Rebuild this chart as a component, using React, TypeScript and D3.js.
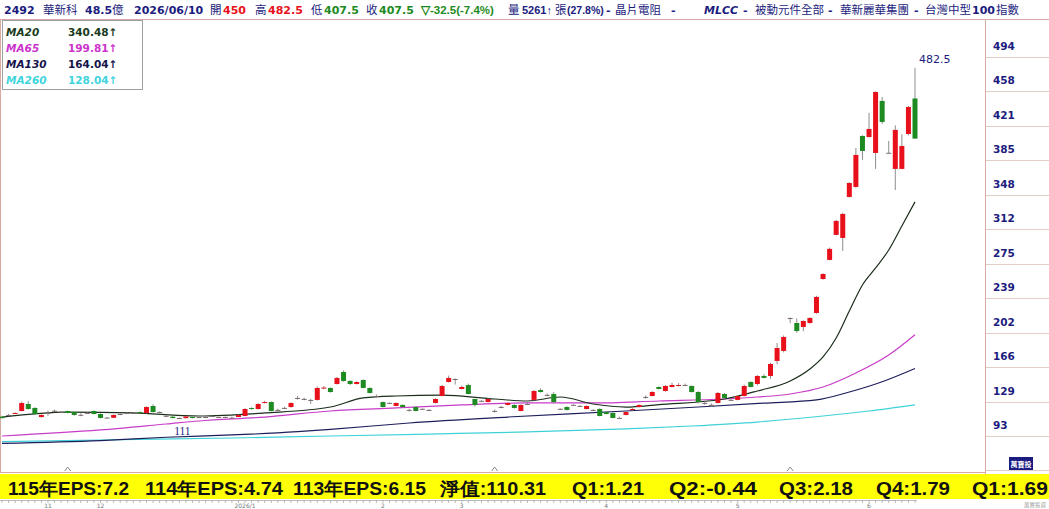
import React, { useEffect } from "react";
import * as d3 from "d3";

// daily candles: open, high, low, close
const candles: [number, number, number, number][] = [
  [113, 114, 111.2, 111.4], [114.5, 116, 113.5, 114.8], [116.5, 117.5, 116, 116.9], [119, 129, 118.5, 127.5],
  [126.4, 129.5, 120.5, 121.1], [122.2, 123, 115, 115.8], [112.6, 115.5, 112, 114.8], [116.9, 119.5, 114, 117.2],
  [119, 120.5, 118, 119.3], [118.2, 119, 117.5, 117.9], [119, 119.5, 116.5, 116.9], [117.9, 118.5, 114, 114.8],
  [114.8, 116.5, 113.5, 115], [116.9, 117.5, 116.5, 117], [119, 119.5, 115.5, 115.8], [115.8, 116.5, 111.2, 111.6],
  [112, 112.5, 111.3, 111.8], [111.8, 115.5, 111.4, 114.8], [115.6, 117, 114.5, 115.8], [116.9, 117.5, 116.5, 117],
  [116.9, 117.5, 116.3, 116.8], [117.9, 118.5, 116.5, 116.9], [116.9, 124, 116.5, 123.2], [124.3, 126, 117.5, 117.9],
  [118, 118.5, 117.5, 117.9], [113.7, 115, 112.5, 113.9], [113, 113.5, 111.2, 111.5], [111.6, 112, 111, 111.4],
  [111.4, 113.6, 111.1, 113.2], [112.6, 113, 111.2, 111.6], [112.4, 113, 112, 112.6], [112.5, 113.8, 111.5, 112.6],
  [113.5, 114, 113.2, 113.7], [112.6, 113, 112.1, 112.5], [112.5, 113, 112, 112.7], [111.8, 113, 111.5, 112],
  [112.6, 115.5, 112.3, 114.8], [113.7, 122, 113.5, 121.1], [122.2, 122.8, 120.5, 121.1], [121.1, 127.2, 120.5, 126.4],
  [127.5, 129.8, 127, 128.5], [128.5, 129, 118.5, 119], [120, 121.5, 118.8, 120.2], [122, 123.5, 121, 122.3],
  [123.2, 128, 122.5, 127.5], [132.6, 135, 131, 132.8], [131.7, 133, 130.5, 131.8], [130.6, 132, 126.5, 130.7],
  [130.7, 145, 130, 143.4], [143, 145.5, 142, 143.8], [143.4, 144, 138.5, 139.1], [147.6, 155, 147, 154],
  [160.3, 162, 150, 150.8], [150.8, 151.5, 146.5, 147.6], [147.6, 150.5, 147, 149.7], [151.8, 152.5, 143, 143.4],
  [143.4, 144, 137.5, 138.1], [134.7, 136.5, 133.5, 134.9], [128.5, 129, 122.8, 123.2], [127.6, 128, 126.8, 127.3],
  [124.3, 128, 124, 127.5], [125.4, 126, 122.8, 123.2], [120, 121.5, 118.5, 120.2], [123.2, 123.8, 118.7, 119],
  [121.3, 121.8, 120.8, 121.1], [120.1, 121, 119, 120], [127.5, 132.5, 127, 131.7], [134.9, 146.5, 134.5, 145.5],
  [149.7, 156.5, 149.2, 154], [152.9, 153.5, 147, 152.9], [142.3, 146, 142, 144.4], [146.5, 148, 136.5, 137],
  [131.7, 132, 123.5, 125.4], [129.8, 130.5, 129, 129.5], [128.5, 132.5, 128, 131.7], [119.1, 120.5, 117.5, 119],
  [123.2, 124.5, 122, 123.3], [125.4, 128, 125, 127.5], [125.4, 126, 121.5, 122.2], [119, 126, 118.5, 125.4],
  [126.4, 128, 125.5, 126.5], [130.7, 141, 130, 140.2], [141.2, 143, 138.5, 139.1], [136, 137.5, 134.5, 136.1],
  [137, 139, 127, 128.5], [121.3, 121.8, 120.5, 121], [123.2, 124, 119.5, 120.1], [125.4, 126, 125, 125.5],
  [124.4, 125, 123.8, 124.2], [121.1, 125, 120.8, 124.3], [120.1, 121, 119, 120], [121.1, 122, 113.3, 113.7],
  [117.9, 118.2, 115.5, 115.8], [116.9, 117.5, 111.2, 111.6], [111.6, 113, 111.3, 111.7], [114.8, 118.5, 114.3, 117.9],
  [120.1, 122, 119.5, 121.1], [123.2, 126, 122.8, 125.4], [133.8, 135.5, 132, 133.9], [134.9, 140, 134.5, 139.1],
  [144.4, 145, 141.8, 142.3], [140.2, 146.5, 139.5, 145.5], [144.4, 149, 144, 146.5], [145.5, 148.5, 145, 146.5],
  [146.5, 148, 145.5, 146.6], [145.5, 146, 138.5, 139.1], [139.1, 140, 127, 128.5], [127.5, 129, 125.5, 127.6],
  [125.4, 127, 123.5, 125.5], [127.5, 139, 127, 138.1], [137, 138, 132.5, 132.8], [130.8, 131.5, 130, 130.6],
  [130.7, 135.5, 130.2, 134.9], [134.9, 147, 134.5, 145.5], [149.7, 150.5, 144, 144.4], [147.6, 157, 146, 156.1],
  [156.1, 158, 153.5, 154], [156.1, 170, 153, 168.8], [172, 191, 168.5, 185.7], [182.6, 199, 181, 197.4],
  [217.5, 218, 212, 217.3], [212.2, 217, 202, 203.7], [208, 215, 203.5, 214.3], [212.2, 218.5, 211.5, 217.5],
  [222.8, 241, 222, 239.8], [258.8, 265, 258, 264.1], [279, 292, 278.5, 290.7], [305.5, 321.5, 305, 320.3],
  [302.3, 329, 288.5, 327.7], [345.7, 361.5, 345, 360.5], [356.3, 397.6, 355.5, 390.2], [410.3, 411, 385, 394.4],
  [409.2, 434.7, 408.5, 417.7], [392.3, 457.5, 375.4, 456.9], [447.4, 451.6, 423, 425.1], [392.3, 405, 392, 392.5],
  [375.4, 421.5, 353, 416.7], [375.4, 412, 375, 399.7], [412.4, 442, 411, 441], [450, 482.5, 407.5, 407.5],
];

// moving averages read at sample days: [day index, value]
const ma20: [number, number][] = [
  [0, 112.6], [10, 117.9], [20, 116.9], [30, 113.7], [40, 116.9], [50, 123.2], [55, 132.8], [60, 134.9],
  [67, 135.8], [75, 131.7], [80, 129.6], [85, 133.8], [90, 126.4], [95, 123.2], [100, 125.8], [110, 131.7],
  [115, 140.2], [120, 150.8], [123, 163.5], [125, 176.2], [127, 196.3], [129, 224.9], [131, 252.5],
  [133, 270.5], [135, 289.5], [137, 315], [139, 340.48],
];
const ma65: [number, number][] = [
  [0, 92.5], [15, 98.9], [25, 105.2], [30, 108.4], [40, 112.6], [50, 119], [60, 122.2], [70, 125.4],
  [80, 127.5], [90, 127.5], [100, 129.6], [110, 131.7], [115, 133.8], [120, 137], [125, 144.4],
  [130, 159.3], [135, 178.3], [139, 199.81],
];
const ma130: [number, number][] = [
  [0, 84.8], [15, 87.7], [25, 91.2], [35, 93.6], [45, 97.1], [50, 99.5], [62, 106.3], [77, 112.6],
  [95, 119], [106, 123.2], [116, 127.3], [124, 130.7], [129, 139.1], [134, 150], [139, 164.04],
];
const ma260: [number, number][] = [
  [0, 86.5], [15, 88.3], [35, 90.4], [50, 92.5], [65, 94.6], [80, 96.8], [95, 100], [105, 103.1],
  [115, 107.3], [125, 113.7], [132, 119], [139, 125.5],
];

const maNames = ["MA20", "MA65", "MA130", "MA260"];
const maValues = ["340.48↑", "199.81↑", "164.04↑", "128.04↑"];
const yTicks = [93, 129, 166, 202, 239, 275, 312, 348, 385, 421, 458, 494];
const monthTicks: [number, string][] = [
  [7, "11"], [15, "12"], [37, "2026/1"], [58, "2"], [70, "3"], [92, "4"], [112, "5"], [132, "6"],
];
const markerDays = [10, 75, 120];
const epsItems = [
  "115年EPS:7.2", "114年EPS:4.74", "113年EPS:6.15", "淨值:110.31",
  "Q1:1.21", "Q2:-0.44", "Q3:2.18", "Q4:1.79", "Q1:1.69",
];

// layout
const W = 1049;
const H = 509;
const PLOT_R = 985;
const PLOT_B = 472;
const epsX = [8, 145, 293, 440, 572, 669, 779, 876, 972];
const epsW = [121, 138, 133, 106, 72, 88, 74, 74, 76];

const UP = "#e8111b";
const DOWN = "#1e8a22";
const NAVY = "#1c1c7e";
const FRAME = "#d8aaa2";
const maColors = ["#1c2e1c", "#c83cc8", "#1e1e5c", "#3ed2d8"];
const legendColors = ["#1a3a1a", "#cc33cc", "#14144a", "#40d4dc"];

const HEAD = "'DejaVu Sans', Verdana, sans-serif";
const NARROW = "'Liberation Sans', Arial, sans-serif";
const CJK = "'Noto Sans CJK TC', sans-serif";

// header pieces; f picks a narrower face where the reference is tight
type Seg = { t: string; x: number; c: string; cjk?: boolean; it?: boolean; f?: string; s?: number };
const header: Seg[] = [
  { t: "2492", x: 4, c: NAVY },
  { t: "華新科", x: 43, c: NAVY, cjk: true },
  { t: "48.5", x: 85, c: NAVY },
  { t: "億", x: 112, c: NAVY, cjk: true },
  { t: "2026/06/10", x: 134, c: NAVY },
  { t: "開", x: 210, c: NAVY, cjk: true },
  { t: "450", x: 223, c: UP },
  { t: "高", x: 255, c: NAVY, cjk: true },
  { t: "482.5", x: 268, c: UP },
  { t: "低", x: 311, c: NAVY, cjk: true },
  { t: "407.5", x: 324, c: DOWN },
  { t: "收", x: 366, c: NAVY, cjk: true },
  { t: "407.5", x: 379, c: DOWN },
  { t: "▽-32.5(-7.4%)", x: 421, c: DOWN, f: NARROW, s: 11.5 },
  { t: "量", x: 508, c: NAVY, cjk: true },
  { t: "5261↑", x: 522, c: NAVY, f: NARROW, s: 11 },
  { t: "張", x: 555, c: NAVY, cjk: true },
  { t: "(27.8%)", x: 567, c: NAVY, f: NARROW, s: 10.5 },
  { t: "-", x: 606, c: NAVY },
  { t: "晶片電阻", x: 615, c: NAVY, cjk: true },
  { t: "-", x: 671, c: NAVY },
  { t: "MLCC", x: 704, c: NAVY, it: true },
  { t: "-", x: 743, c: NAVY },
  { t: "被動元件全部", x: 755, c: NAVY, cjk: true },
  { t: "-", x: 828, c: NAVY },
  { t: "華新麗華集團", x: 840, c: NAVY, cjk: true },
  { t: "-", x: 914, c: NAVY },
  { t: "台灣中型", x: 925, c: NAVY, cjk: true },
  { t: "100", x: 972, c: NAVY },
  { t: "指數", x: 996, c: NAVY, cjk: true },
];

export default function App() {
  useEffect(() => {
    document.body.style.margin = "0";
    document.body.style.overflow = "hidden";
  }, []);

  const x = d3.scaleLinear().domain([0, candles.length - 1]).range([2, 915]);
  const y = d3.scaleLinear().domain([56.5, 531]).range([470, 22]);
  const bodyW = 5;

  const line = d3
    .line<[number, number]>()
    .x((d) => x(d[0]))
    .y((d) => y(d[1]))
    .curve(d3.curveMonotoneX);

  const hiI = d3.maxIndex(candles, (d) => d[1]);
  const loI = d3.minIndex(candles, (d) => d[2]);

  return (
    <svg
      width={W}
      height={H}
      style={{ position: "absolute", left: 0, top: 0, display: "block", background: "#fff" }}
    >
      {/* header */}
      {header.map((s, i) => (
        <text
          key={i}
          x={s.x}
          y={14}
          fill={s.c}
          fontFamily={s.cjk ? CJK : s.f || HEAD}
          fontWeight={s.cjk ? 400 : "bold"}
          fontSize={s.cjk ? 11.5 : s.s || 11}
          fontStyle={s.it ? "italic" : "normal"}
        >
          {s.t}
        </text>
      ))}

      {/* frame */}
      <line x1={0} x2={W} y1={19.5} y2={19.5} stroke={FRAME} />
      <line x1={0.5} x2={0.5} y1={19.5} y2={PLOT_B} stroke={FRAME} />
      <line x1={0} x2={PLOT_R} y1={PLOT_B + 0.5} y2={PLOT_B + 0.5} stroke={FRAME} />
      <line x1={PLOT_R + 0.5} x2={PLOT_R + 0.5} y1={19.5} y2={474} stroke={FRAME} />

      {/* right axis */}
      {[56.5, ...yTicks].map((v) => (
        <line
          key={v}
          x1={PLOT_R + 1}
          x2={W}
          y1={Math.round(y(v)) + 0.5}
          y2={Math.round(y(v)) + 0.5}
          stroke="#e4cdc6"
        />
      ))}
      {yTicks.map((v) => (
        <text
          key={v}
          x={993}
          y={y(v) - 7}
          fill={NAVY}
          fontSize={10.5}
          fontWeight="bold"
          fontFamily={HEAD}
        >
          {v}
        </text>
      ))}
      <rect x={1009} y={457} width={24} height={13} fill="#1a1a80" />
      <text x={1021} y={466.5} fill="#fff" fontSize={7} textAnchor="middle" fontFamily={CJK} fontWeight="bold">
        萬寶投
      </text>

      {/* moving averages */}
      {[ma260, ma130, ma65, ma20].map((pts, i) => (
        <path
          key={i}
          d={line(pts) || ""}
          fill="none"
          stroke={maColors[3 - i]}
          strokeWidth={1.2}
        />
      ))}

      {/* candles */}
      {candles.map((d, i) => {
        const [o, h, l, c] = d;
        const cx = x(i);
        const up = c >= o;
        const top = y(Math.max(o, c));
        const bh = Math.max(1, y(Math.min(o, c)) - top);
        return (
          <g key={i}>
            <line x1={cx} x2={cx} y1={y(h)} y2={y(l)} stroke="#8e8e8e" strokeWidth={1} />
            <rect
              x={cx - bodyW / 2}
              y={top}
              width={bodyW}
              height={bh}
              fill={Math.abs(c - o) < 0.4 ? "#7a6a6a" : up ? UP : DOWN}
            />
          </g>
        );
      })}

      {/* high / low labels */}
      <text x={x(hiI) + 4} y={y(candles[hiI][1]) - 5} fill={NAVY} fontSize={11} fontFamily={HEAD}>
        {String(candles[hiI][1])}
      </text>
      <text
        x={x(loI) + 3}
        y={y(candles[loI][2]) + 16}
        fill={NAVY}
        fontSize={11.5}
        textAnchor="middle"
        fontFamily="'Liberation Serif', serif"
      >
        {String(candles[loI][2])}
      </text>

      {/* event markers */}
      {markerDays.map((m) => (
        <path
          key={m}
          d={`M${x(m) - 3},${PLOT_B - 1} L${x(m)},${PLOT_B - 5} L${x(m) + 3},${PLOT_B - 1}`}
          fill="none"
          stroke="#8a8a8a"
          strokeWidth={1}
        />
      ))}

      {/* legend */}
      <rect x={2.5} y={20.5} width={140} height={69} fill="#fff" stroke="#a0a0a0" />
      {maNames.map((n, i) => (
        <g key={n} fontSize={10.5} fontWeight="bold" fontFamily={HEAD} fill={legendColors[i]}>
          <text x={6} y={36 + i * 16} fontStyle="italic">
            {n}
          </text>
          <text x={68} y={36 + i * 16}>
            {maValues[i]}
          </text>
        </g>
      ))}

      {/* EPS band */}
      <rect x={0} y={474} width={W} height={25} fill="#ffff06" />
      {epsItems.map((t, i) => (
        <text
          key={i}
          x={epsX[i]}
          y={495}
          fontSize={18}
          fontWeight="bold"
          fontFamily={NARROW}
          fill="#111"
          textLength={epsW[i]}
          lengthAdjust="spacingAndGlyphs"
        >
          {t}
        </text>
      ))}

      {/* date ruler */}
      <line x1={0} x2={x(candles.length - 1) + 2} y1={500.5} y2={500.5} stroke="#bbb" />
      {candles.map((_, i) => (
        <line key={i} x1={x(i)} x2={x(i)} y1={500} y2={503} stroke="#aaa" strokeWidth={0.8} />
      ))}
      {monthTicks.map(([i, t]) => (
        <text key={t} x={x(i)} y={508} fontSize={6} fill="#777" textAnchor="middle" fontFamily={HEAD}>
          {t}
        </text>
      ))}
      <text x={1046} y={507} fontSize={5.5} fill="#999" textAnchor="end" fontFamily={CJK}>
        萬寶投資
      </text>
    </svg>
  );
}
